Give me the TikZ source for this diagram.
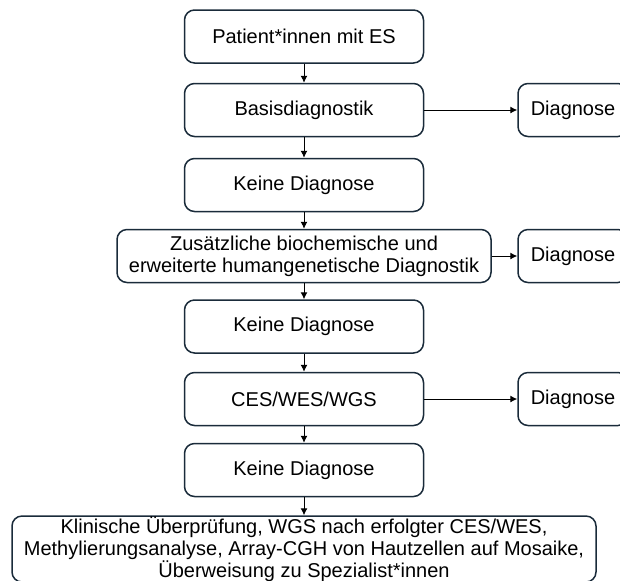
\documentclass[tikz,border=0pt]{standalone}
\usepackage{fontspec}
\setmainfont{Liberation Sans}
\usetikzlibrary{arrows.meta}
\definecolor{boxline}{HTML}{1A2B3A}
\begin{document}
\begin{tikzpicture}[x=0.5pt,y=-0.5pt,
    every node/.style={font=\fontsize{10}{11}\selectfont},
    stepbox/.style={draw=boxline,line width=0.75pt,rounded corners=5pt,align=center,
        minimum width=119.5pt,minimum height=26.5pt,inner sep=0pt},
    diagbox/.style={stepbox,minimum width=55pt},
    flow/.style={-{Latex[length=3.5pt,width=3.5pt]},line width=0.5pt}]
    \useasboundingbox (0,0) rectangle (620,580);
    \node[stepbox] (patients) at (304,36.5) {Patient*innen mit ES};
    \node[stepbox] (basis) at (304,110) {Basisdiagnostik};
    \node[stepbox] (none1) at (304,185) {Keine Diagnose};
    \node[stepbox,minimum width=187pt] (extra) at (304,256) {Zusätzliche biochemische und\\erweiterte humangenetische Diagnostik};
    \node[stepbox] (none2) at (304,326.5) {Keine Diagnose};
    \node[stepbox] (seq) at (304,399) {CES/WES/WGS};
    \node[stepbox] (none3) at (304,470) {Keine Diagnose};
    \node[stepbox,minimum width=292pt,minimum height=33pt] (further) at (304,549)
        {Klinische Überprüfung, WGS nach erfolgter CES/WES,\\Methylierungsanalyse, Array-CGH von Hautzellen auf Mosaike,\\Überweisung zu Spezialist*innen};
    \node[diagbox] (diag1) at (573,110) {Diagnose};
    \node[diagbox] (diag2) at (573,256) {Diagnose};
    \node[diagbox] (diag3) at (573,399) {Diagnose};
    % flow down
    \draw[flow] (patients) -- (basis);
    \draw[flow] (basis) -- (none1);
    \draw[flow] (none1) -- (extra);
    \draw[flow] (extra) -- (none2);
    \draw[flow] (none2) -- (seq);
    \draw[flow] (seq) -- (none3);
    \draw[flow] (none3) -- (further);
    % to diagnosis
    \draw[flow] (basis) -- (diag1);
    \draw[flow] (extra) -- (diag2);
    \draw[flow] (seq) -- (diag3);
\end{tikzpicture}
\end{document}
